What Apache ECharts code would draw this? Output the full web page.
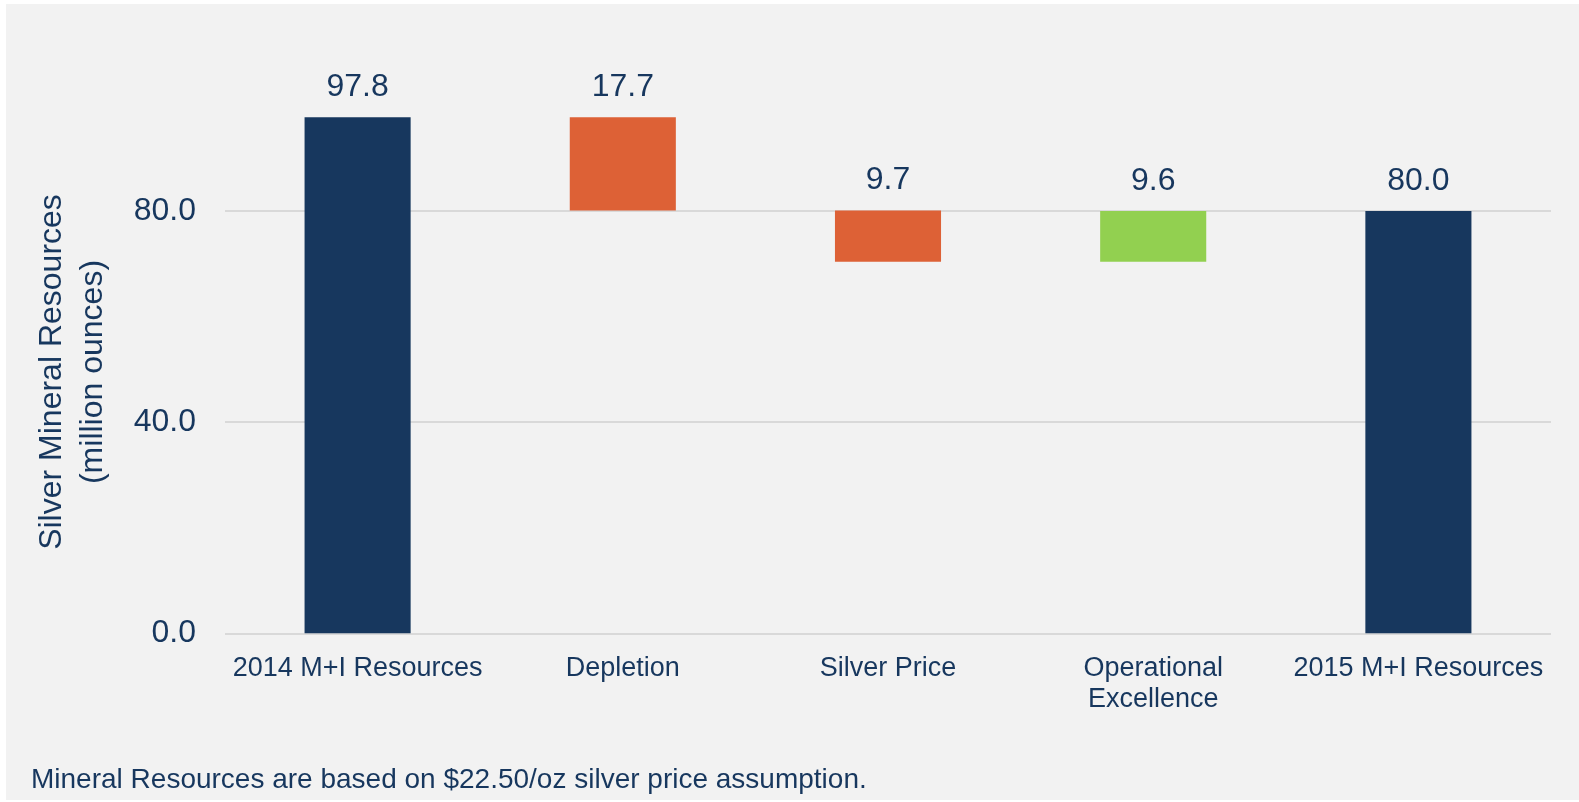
<!DOCTYPE html>
<html>
<head>
<meta charset="utf-8">
<script src="https://cdn.jsdelivr.net/npm/echarts@6/dist/echarts.min.js"></script>
<style>
  html, body { margin: 0; padding: 0; background: #ffffff; }
  #panel { position: absolute; left: 6px; top: 4px; width: 1573px; height: 796px; background: #f2f2f2; }
  #chart { position: absolute; left: 0; top: 0; width: 1579px; height: 802px; }
</style>
</head>
<body>
<div id="panel"></div>
<div id="chart"></div>
<script>
// Waterfall steps: opening total, changes, closing total (million ounces)
const categories = ['2014 M+I Resources', 'Depletion', 'Silver Price', 'Operational\nExcellence', '2015 M+I Resources'];
const stepValues = [97.8, -17.7, -9.7, 9.6, 80.0];
const isTotal = [true, false, false, false, true];
const yTicks = [0, 40, 80];

const NAVY = '#17375e';
const ORANGE = '#dd6136';
const GREEN = '#92d050';
const TEXT = '#17375e';

// Build invisible base + visible segment for each step
const baseData = [];
const barData = [];
let running = 0;
stepValues.forEach((v, i) => {
  if (isTotal[i]) {
    baseData.push(0);
    barData.push({ value: v, itemStyle: { color: NAVY } });
    running = v;
  } else {
    const next = running + v;
    baseData.push(Math.min(running, next));
    barData.push({ value: Math.abs(v), itemStyle: { color: v < 0 ? ORANGE : GREEN } });
    running = next;
  }
});

const chart = echarts.init(document.getElementById('chart'), null, { renderer: 'canvas' });
chart.setOption({
  backgroundColor: 'transparent',
  animation: false,
  textStyle: { fontFamily: '"Liberation Sans", Arial, sans-serif' },
  grid: { left: 225, right: 28, top: 0, bottom: 168.7, containLabel: false },
  xAxis: {
    type: 'category',
    data: categories,
    axisLine: { show: false },
    axisTick: { show: false },
    axisLabel: {
      color: TEXT, fontSize: 27, lineHeight: 31, margin: 20, interval: 0,
      fontFamily: '"Liberation Sans", Arial, sans-serif'
    }
  },
  yAxis: {
    type: 'value',
    min: 0, max: 120, interval: 40,
    axisLine: { show: false },
    axisTick: { show: false },
    axisLabel: {
      color: TEXT, fontSize: 32, margin: 29, showMaxLabel: false,
      formatter: v => yTicks.includes(v) ? v.toFixed(1) : ''
    },
    splitLine: { lineStyle: { color: ['#d9d9d9', '#d9d9d9', '#d9d9d9', 'rgba(0,0,0,0)'], width: 2 } }
  },
  graphic: [{
    type: 'text',
    x: 73, y: 372,
    rotation: Math.PI / 2,
    style: {
      text: 'Silver Mineral Resources\n(million ounces)',
      fill: TEXT,
      font: '32px "Liberation Sans", Arial, sans-serif',
      textAlign: 'center',
      textVerticalAlign: 'middle',
      lineHeight: 41
    }
  }, {
    type: 'text',
    left: 31, top: 766,
    style: {
      text: 'Mineral Resources are based on $22.50/oz silver price assumption.',
      fill: TEXT,
      font: '28px "Liberation Sans", Arial, sans-serif'
    }
  }],
  series: [{
    type: 'bar',
    stack: 'wf',
    data: baseData,
    barWidth: '40%',
    itemStyle: { color: 'rgba(0,0,0,0)' },
    emphasis: { disabled: true },
    silent: true
  }, {
    type: 'bar',
    stack: 'wf',
    data: barData,
    barWidth: '40%',
    label: {
      show: true,
      position: 'top',
      distance: 14,
      color: TEXT,
      fontSize: 32,
      formatter: p => p.value.toFixed(1)
    }
  }]
});
</script>
</body>
</html>
